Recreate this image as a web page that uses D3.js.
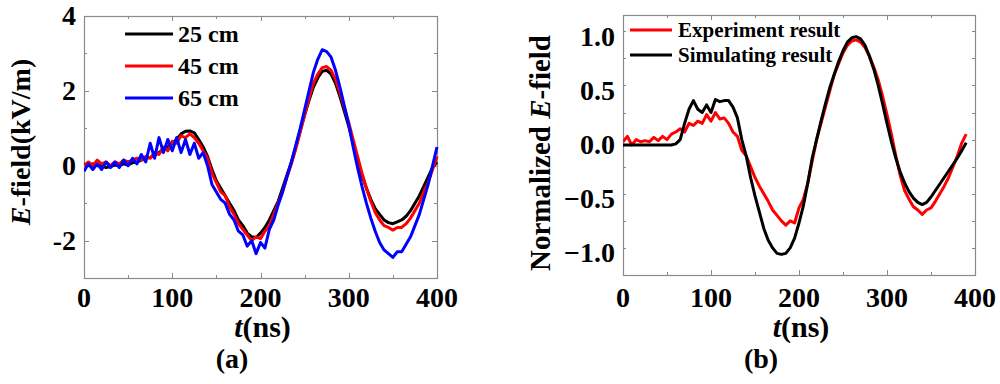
<!DOCTYPE html>
<html><head><meta charset="utf-8">
<script src="https://cdn.jsdelivr.net/npm/d3@7"></script>
<style>
body{margin:0;background:#fff;}
text{font-family:"Liberation Serif","Times New Roman",serif;font-weight:bold;fill:#000;}
</style></head>
<body><svg id="c" width="1000" height="384"></svg>
<script>
// ---------- DATA ----------
// panel (a): time axis 0..400 ns step 5
const tA = d3.range(0, 401, 5);
const e25 = [0.05,0.0,0.05,0.0,0.02,-0.05,-0.02,0.02,0.0,0.05,0.02,0.08,0.1,0.15,0.2,0.22,0.28,0.35,0.45,0.5,0.6,0.7,0.85,0.92,0.93,0.88,0.7,0.5,0.25,-0.1,-0.4,-0.6,-0.8,-1.0,-1.2,-1.45,-1.6,-1.8,-1.9,-1.92,-1.8,-1.65,-1.45,-1.2,-0.95,-0.6,-0.25,0.1,0.5,0.95,1.35,1.75,2.1,2.35,2.52,2.55,2.45,2.2,1.85,1.45,1.05,0.6,0.15,-0.25,-0.6,-0.9,-1.15,-1.3,-1.45,-1.52,-1.55,-1.5,-1.45,-1.35,-1.2,-1.0,-0.8,-0.55,-0.3,-0.05,0.1];
const e45 = [0.0,0.1,0.0,0.15,0.05,0.1,0.0,0.1,0.05,0.15,0.1,0.15,0.2,0.15,0.25,0.2,0.35,0.3,0.5,0.4,0.65,0.6,0.8,0.75,0.85,0.75,0.6,0.4,0.2,-0.2,-0.45,-0.7,-0.8,-1.1,-1.3,-1.55,-1.7,-1.85,-2.0,-1.9,-1.95,-1.75,-1.6,-1.3,-1.0,-0.7,-0.3,0.05,0.45,0.9,1.35,1.8,2.2,2.45,2.62,2.65,2.55,2.3,1.95,1.55,1.15,0.7,0.25,-0.2,-0.6,-0.95,-1.25,-1.45,-1.6,-1.65,-1.72,-1.65,-1.65,-1.55,-1.4,-1.2,-1.0,-0.7,-0.45,-0.1,0.25];
const e65 = [-0.15,0.05,-0.1,0.05,-0.1,0.1,-0.05,0.1,-0.05,0.15,0.0,0.2,0.05,0.3,0.1,0.6,0.2,0.75,0.35,0.7,0.4,0.75,0.35,0.7,0.3,0.6,0.2,0.35,0.0,-0.5,-0.7,-0.9,-1.0,-1.3,-1.45,-1.75,-1.85,-2.15,-2.0,-2.35,-2.05,-2.2,-1.7,-1.45,-1.05,-0.7,-0.3,0.1,0.55,1.0,1.5,2.0,2.5,2.85,3.1,3.05,2.9,2.55,2.1,1.6,1.1,0.5,-0.05,-0.55,-1.0,-1.4,-1.75,-2.05,-2.25,-2.35,-2.45,-2.3,-2.3,-2.1,-1.9,-1.6,-1.3,-0.9,-0.5,0.0,0.5];
const seriesA = ["25 cm","45 cm","65 cm"];
const colorsA = ["#000000","#ff0000","#0000ff"];
const xTicksA = [0,100,200,300,400];
const yTicksA = [-2,0,2,4];

// panel (b): time axis 0..390 ns step 5
const tB = d3.range(0, 391, 5);
const expB = [0.03,0.08,0.0,0.05,0.03,0.04,0.03,0.07,0.04,0.08,0.05,0.1,0.12,0.15,0.12,0.2,0.18,0.22,0.2,0.28,0.22,0.3,0.24,0.25,0.2,0.12,0.08,-0.05,-0.1,-0.2,-0.3,-0.38,-0.45,-0.52,-0.6,-0.65,-0.7,-0.74,-0.7,-0.72,-0.58,-0.5,-0.35,-0.15,0.05,0.2,0.35,0.5,0.65,0.75,0.85,0.92,0.96,0.97,0.95,0.9,0.82,0.72,0.6,0.45,0.28,0.1,-0.1,-0.28,-0.42,-0.5,-0.57,-0.6,-0.64,-0.6,-0.58,-0.52,-0.45,-0.38,-0.3,-0.2,-0.1,0.02,0.1];
const simB = [0,0,0,0,0,0,0,0,0,0,0,0,0.01,0.05,0.2,0.33,0.41,0.33,0.3,0.37,0.3,0.42,0.4,0.41,0.41,0.35,0.25,0.05,-0.1,-0.3,-0.47,-0.62,-0.77,-0.88,-0.95,-1.0,-1.01,-1.0,-0.95,-0.86,-0.72,-0.56,-0.35,-0.12,0.05,0.22,0.38,0.53,0.65,0.77,0.87,0.95,0.99,1.0,0.98,0.92,0.82,0.7,0.55,0.38,0.2,0.03,-0.12,-0.25,-0.35,-0.43,-0.49,-0.53,-0.55,-0.53,-0.48,-0.42,-0.36,-0.3,-0.24,-0.18,-0.12,-0.05,0.02];
const seriesB = ["Experiment result","Simulating result"];
const colorsB = ["#ff0000","#000000"];
const xTicksB = [0,100,200,300,400];
const yTicksB = [-1.0,-0.5,0.0,0.5,1.0];

// ---------- DRAW ----------
const svg = d3.select("#c");
const frameColor = "#8a8a8a";

function panel(o){
  const g = svg.append("g");
  const x = d3.scaleLinear().domain(o.xd).range([o.x0,o.x1]);
  const y = d3.scaleLinear().domain(o.yd).range([o.y1,o.y0]);
  const xMinor = d3.range(o.xd[0], o.xd[1]+0.001, o.xStep);
  const yMinor = d3.range(o.yd[0], o.yd[1]+0.001, o.yStep);
  const tk = g.append("g").attr("stroke",frameColor).attr("stroke-width",1);
  xMinor.forEach(v=>{
    const major = o.xTicks.some(t=>Math.abs(t-v)<1e-6);
    const L = major?5:3;
    const px = Math.round(x(v))+0.5;
    tk.append("line").attr("x1",px).attr("x2",px).attr("y1",o.y1).attr("y2",o.y1-L);
    tk.append("line").attr("x1",px).attr("x2",px).attr("y1",o.y0).attr("y2",o.y0+L);
  });
  yMinor.forEach(v=>{
    const major = o.yTicks.some(t=>Math.abs(t-v)<1e-6);
    const L = major?5:3;
    const py = Math.round(y(v))+0.5;
    tk.append("line").attr("y1",py).attr("y2",py).attr("x1",o.x0).attr("x2",o.x0+L);
    tk.append("line").attr("y1",py).attr("y2",py).attr("x1",o.x1).attr("x2",o.x1-L);
  });
  g.append("rect").attr("x",o.x0+0.5).attr("y",o.y0+0.5).attr("width",o.x1-o.x0).attr("height",o.y1-o.y0)
    .attr("fill","none").attr("stroke",frameColor).attr("stroke-width",1.2);
  g.selectAll(".xl").data(o.xTicks).enter().append("text")
    .attr("x",d=>x(d)).attr("y",307).attr("text-anchor","middle").attr("font-size",28).text(d=>d);
  g.selectAll(".yl").data(o.yTicks).enter().append("text")
    .attr("x",o.x0-8).attr("y",d=>y(d)+9).attr("text-anchor","end").attr("font-size",28).text(o.yFmt);
  const cp = "clip"+o.id;
  svg.append("clipPath").attr("id",cp).append("rect").attr("x",o.x0).attr("y",o.y0-2).attr("width",o.x1-o.x0+2).attr("height",o.y1-o.y0+4);
  const line = d3.line().x(d=>x(d[0])).y(d=>y(d[1]));
  o.series.forEach((s,i)=>{
    g.append("path").attr("clip-path","url(#"+cp+")")
      .datum(o.t.map((t,j)=>[t,s[j]]))
      .attr("fill","none").attr("stroke",o.colors[i]).attr("stroke-width",3)
      .attr("stroke-linejoin","round").attr("d",line);
  });
  const xt = g.append("text").attr("x",(o.x0+o.x1)/2+2).attr("y",337).attr("text-anchor","middle").attr("font-size",30);
  xt.append("tspan").attr("font-style","italic").text("t");
  xt.append("tspan").text("(ns)");
  g.append("text").attr("x",o.capX).attr("y",368).attr("text-anchor","middle").attr("font-size",28).text(o.cap);
  return {g,x,y};
}

panel({id:"a",x0:84,x1:437,y0:16,y1:278,xd:[0,400],yd:[-3,4],xStep:50,yStep:1,
  xTicks:xTicksA,yTicks:yTicksA,yFmt:d=>d,t:tA,series:[e25,e45,e65],colors:colorsA,capX:232,cap:"(a)"});
panel({id:"b",x0:623,x1:975,y0:15,y1:275,xd:[0,400],yd:[-1.2,1.2],xStep:50,yStep:0.25,
  xTicks:xTicksB,yTicks:yTicksB,yFmt:d=>d3.format(".1f")(d),t:tB,series:[expB,simB],colors:colorsB,capX:761,cap:"(b)"});

const ya = svg.append("text").attr("transform","translate(30,142) rotate(-90)").attr("text-anchor","middle").attr("font-size",28);
ya.append("tspan").attr("font-style","italic").text("E");
ya.append("tspan").text("-field(kV/m)");
const yb = svg.append("text").attr("transform","translate(550,153) rotate(-90)").attr("text-anchor","middle").attr("font-size",29);
yb.append("tspan").text("Normalized ");
yb.append("tspan").attr("font-style","italic").text("E");
yb.append("tspan").text("-field");

seriesA.forEach((s,i)=>{
  const yy = 34 + i*32;
  svg.append("line").attr("x1",125).attr("x2",173).attr("y1",yy).attr("y2",yy).attr("stroke",colorsA[i]).attr("stroke-width",3);
  svg.append("text").attr("x",178).attr("y",yy+8).attr("font-size",24).text(s);
});
seriesB.forEach((s,i)=>{
  const yy = 30 + i*25;
  svg.append("line").attr("x1",630).attr("x2",672).attr("y1",yy).attr("y2",yy).attr("stroke",colorsB[i]).attr("stroke-width",3);
  svg.append("text").attr("x",678).attr("y",yy+7).attr("font-size",21).text(s);
});
</script></body></html>
